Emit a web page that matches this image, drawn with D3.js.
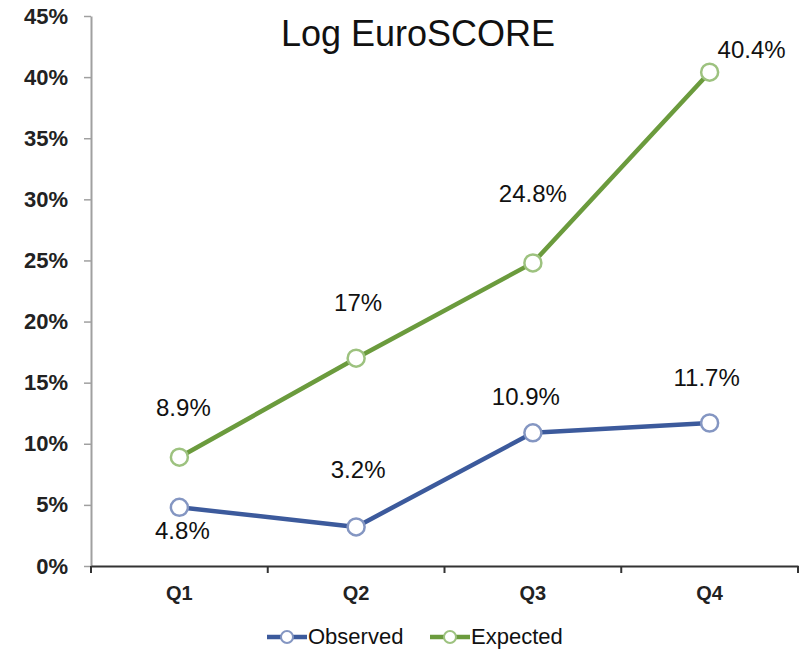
<!DOCTYPE html>
<html>
<head>
<meta charset="utf-8">
<script src="https://cdn.jsdelivr.net/npm/d3@7"></script>
<style>
  html, body { margin: 0; padding: 0; background: #fff; }
  svg { display: block; font-family: "Liberation Sans", Arial, Helvetica, sans-serif; }
</style>
</head>
<body>
<svg id="chart" width="800" height="650"></svg>
<script>
// Quartile categories and mortality rates (%)
const categories = ["Q1", "Q2", "Q3", "Q4"];
const observed = [4.8, 3.2, 10.9, 11.7];
const expected = [8.9, 17, 24.8, 40.4];
const yTicks = [0, 5, 10, 15, 20, 25, 30, 35, 40, 45];
const seriesNames = ["Observed", "Expected"];

const colors = {
  Observed: { line: "#3c5a9c", marker: "#8496c2" },
  Expected: { line: "#6b9b3d", marker: "#9dc27f" }
};

const svg = d3.select("#chart");
const margin = { left: 91, right: 2, top: 16, bottom: 84 };
const width = 800, height = 650;

const x = d3.scaleBand()
  .domain(categories)
  .range([margin.left, width - margin.right]);

const y = d3.scaleLinear()
  .domain([0, 45])
  .range([height - margin.bottom, margin.top]);

// Y axis
const yAxis = svg.append("g")
  .attr("transform", `translate(${margin.left},0)`)
  .call(d3.axisLeft(y).tickValues(yTicks).tickSize(7).tickSizeOuter(0)
    .tickFormat(d => d + "%"));
yAxis.select(".domain").attr("stroke", "#a0a0a0").attr("stroke-width", 2);
yAxis.selectAll(".tick line").attr("stroke", "#a0a0a0").attr("stroke-width", 1.5);
yAxis.selectAll(".tick text")
  .attr("x", -23)
  .attr("fill", "#222")
  .style("font-size", "22px")
  .style("font-weight", "bold");

// X axis
const xAxis = svg.append("g")
  .attr("transform", `translate(0,${y(0)})`)
  .call(d3.axisBottom(x).tickSize(0).tickSizeOuter(0));
xAxis.select(".domain").attr("stroke", "#333").attr("stroke-width", 2);
xAxis.selectAll(".tick text")
  .attr("dy", "0.71em")
  .attr("y", 20)
  .attr("fill", "#222")
  .style("font-size", "20px")
  .style("font-weight", "bold");
// Boundary ticks between categories
const boundaries = categories.map(c => x(c)).concat([x(categories[categories.length - 1]) + x.bandwidth()]);
xAxis.selectAll(".bound")
  .data(boundaries)
  .join("line")
  .attr("class", "bound")
  .attr("x1", d => d).attr("x2", d => d)
  .attr("y1", 0).attr("y2", 7)
  .attr("stroke", "#333").attr("stroke-width", 2);

// Title
svg.append("text")
  .attr("x", 418).attr("y", 46)
  .attr("text-anchor", "middle")
  .style("font-size", "36px")
  .attr("fill", "#111")
  .text("Log EuroSCORE");

const cx = c => x(c) + x.bandwidth() / 2;
const line = d3.line().x(d => cx(d.c)).y(d => y(d.v));

function drawSeries(name, values) {
  const pts = categories.map((c, i) => ({ c, v: values[i] }));
  const g = svg.append("g");
  g.append("path")
    .datum(pts)
    .attr("d", line)
    .attr("fill", "none")
    .attr("stroke", colors[name].line)
    .attr("stroke-width", 4.5)
    .attr("stroke-linejoin", "round");
  g.selectAll("circle")
    .data(pts)
    .join("circle")
    .attr("cx", d => cx(d.c))
    .attr("cy", d => y(d.v))
    .attr("r", 8.5)
    .attr("fill", "#fff")
    .attr("stroke", colors[name].marker)
    .attr("stroke-width", 2.5);
  return pts;
}

const obsPts = drawSeries("Observed", observed);
const expPts = drawSeries("Expected", expected);

// Value labels: baseline offsets relative to each point
const expOffsets = [[4, -41], [2, -47], [0, -61], [42, -14]];
const obsOffsets = [[3, 32], [2, -49], [-7, -28], [-3, -37]];

function labels(pts, offsets) {
  svg.append("g").selectAll("text")
    .data(pts)
    .join("text")
    .attr("x", (d, i) => cx(d.c) + offsets[i][0])
    .attr("y", (d, i) => y(d.v) + offsets[i][1])
    .attr("text-anchor", "middle")
    .style("font-size", "24px")
    .attr("fill", "#111")
    .text(d => d.v + "%");
}
labels(expPts, expOffsets);
labels(obsPts, obsOffsets);

// Legend
const legend = svg.append("g").attr("transform", "translate(267,637)");
const legendX = [0, 163];
seriesNames.forEach((name, i) => {
  const g = legend.append("g").attr("transform", `translate(${legendX[i]},0)`);
  g.append("line")
    .attr("x1", 0).attr("x2", 40)
    .attr("stroke", colors[name].line).attr("stroke-width", 4.5);
  g.append("circle")
    .attr("cx", 20).attr("r", 6)
    .attr("fill", "#fff")
    .attr("stroke", colors[name].marker).attr("stroke-width", 2);
  g.append("text")
    .attr("x", 41).attr("y", 1)
    .attr("dominant-baseline", "middle")
    .style("font-size", "22px")
    .attr("fill", "#111")
    .text(name);
});
</script>
</body>
</html>
